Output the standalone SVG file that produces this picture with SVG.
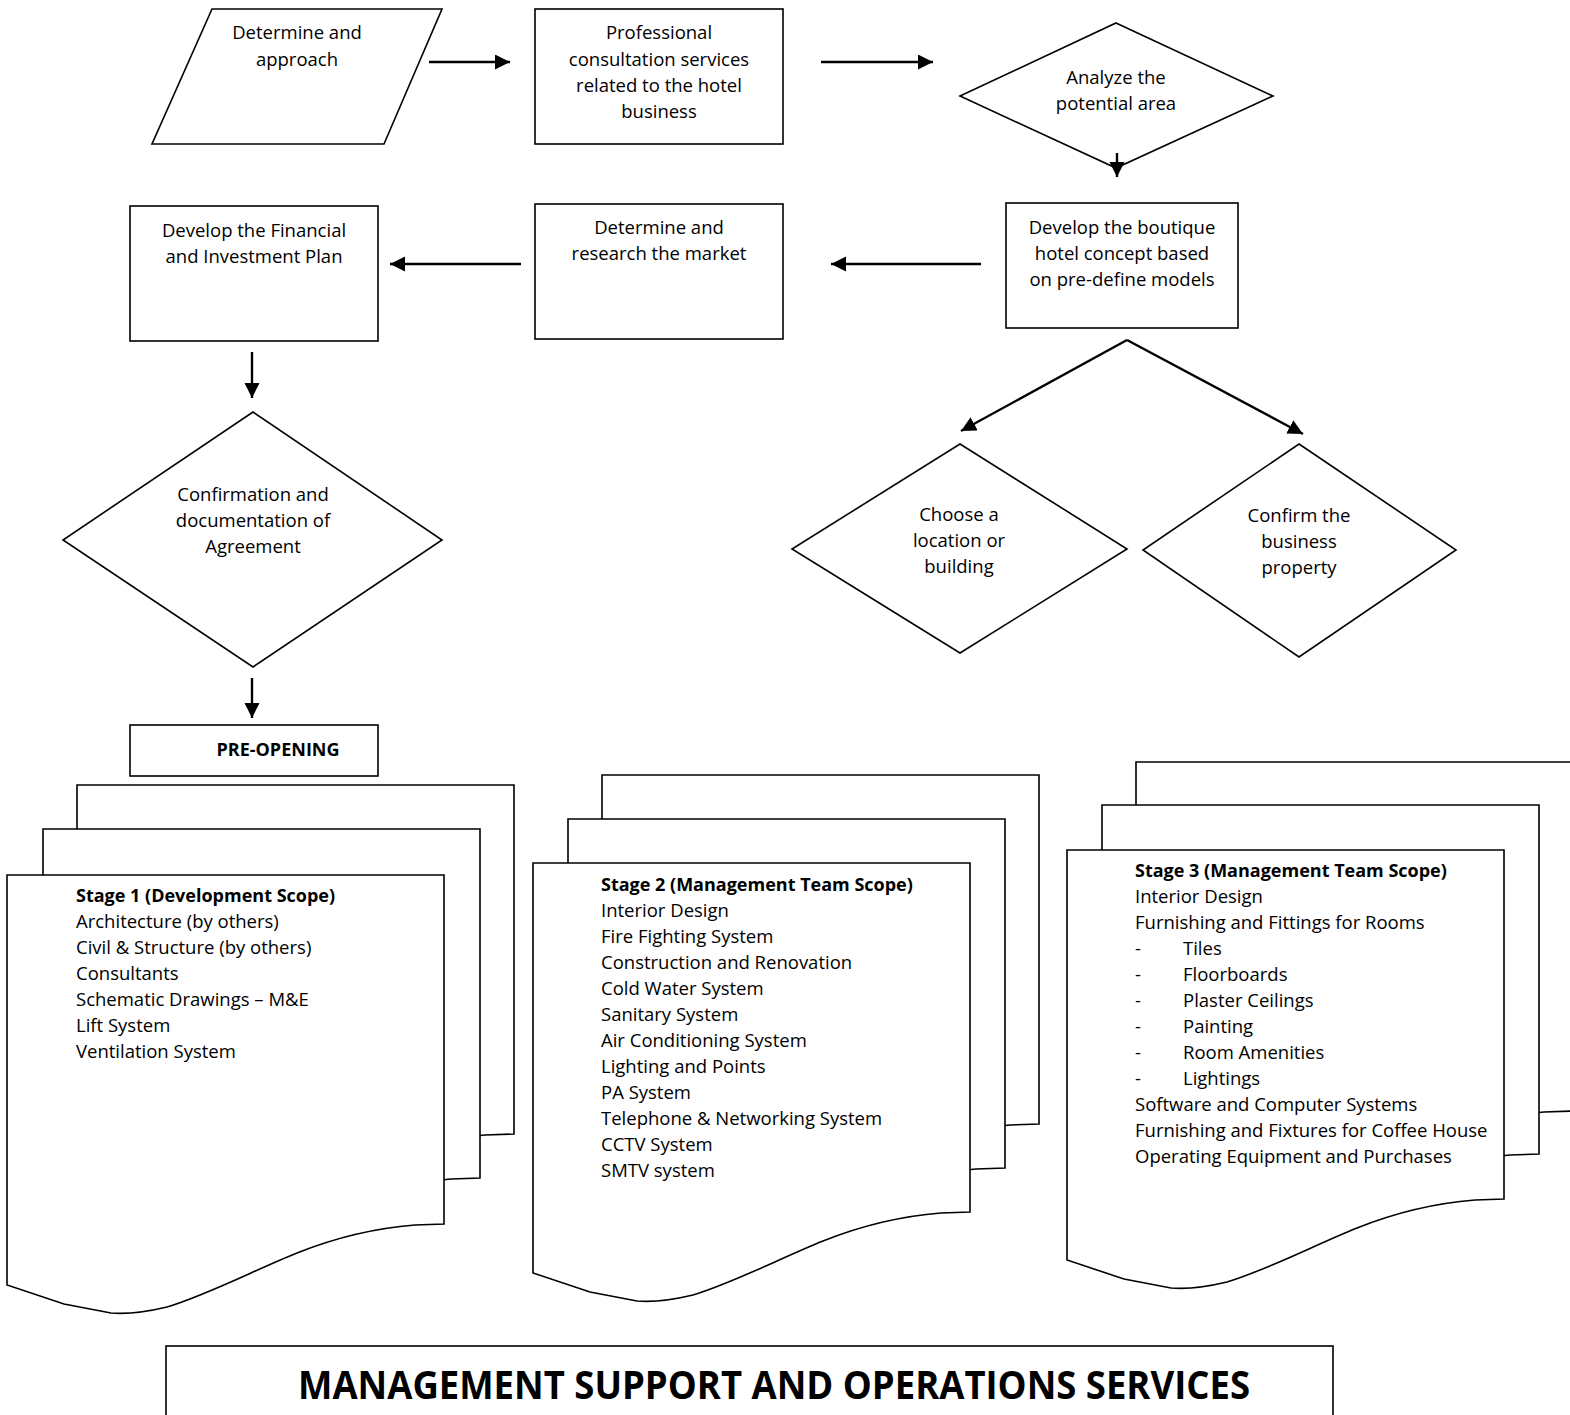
<svg xmlns="http://www.w3.org/2000/svg" xmlns:xlink="http://www.w3.org/1999/xlink" width="1570" height="1415" viewBox="0 0 1570 1415">
<style>
.shape{fill:#fff;stroke:#000;stroke-width:1.6}
.t{font-family:"Open Sans","Noto Sans","Liberation Sans",sans-serif;font-size:18.5px;fill:#000}
.c{text-anchor:middle}
.b{font-weight:bold}
.h{font-size:18px}
.conn{stroke:#000;stroke-width:2.4;fill:none;marker-end:url(#ah)}
</style>
<defs>
<marker id="ah" markerUnits="userSpaceOnUse" markerWidth="16" markerHeight="16" refX="15" refY="7.5" orient="auto">
<path d="M0,0 L15,7.5 L0,15 Z" fill="#000"/>
</marker>
<path id="doc" class="shape" d="M0,0 H437 V349 L408,350 C370,353 330,362 290,378 C250,394 200,420 160,432 C135,438 115,439 104,438 L57,429 L0,410 Z"/>
</defs>
<rect width="1570" height="1415" fill="#fff"/>

<g id="n-approach">
<polygon class="shape" points="212,9 442,9 384,144 152,144"/>
<text class="t c" x="297" y="39">Determine and</text>
<text class="t c" x="297" y="66">approach</text>
</g>
<g id="n-consult">
<rect class="shape" x="535" y="9" width="248" height="135"/>
<text class="t c" x="659" y="39">Professional</text>
<text class="t c" x="659" y="66">consultation services</text>
<text class="t c" x="659" y="92">related to the hotel</text>
<text class="t c" x="659" y="118">business</text>
</g>
<g id="n-analyze">
<polygon class="shape" points="1116,23 1273,96 1116,168 960,96"/>
<text class="t c" x="1116" y="84">Analyze the</text>
<text class="t c" x="1116" y="110">potential area</text>
</g>
<g id="n-boutique">
<rect class="shape" x="1006" y="203" width="232" height="125"/>
<text class="t c" x="1122" y="234">Develop the boutique</text>
<text class="t c" x="1122" y="260">hotel concept based</text>
<text class="t c" x="1122" y="286">on pre-define models</text>
</g>
<g id="n-market">
<rect class="shape" x="535" y="204" width="248" height="135"/>
<text class="t c" x="659" y="234">Determine and</text>
<text class="t c" x="659" y="260">research the market</text>
</g>
<g id="n-financial">
<rect class="shape" x="130" y="206" width="248" height="135"/>
<text class="t c" x="254" y="237">Develop the Financial</text>
<text class="t c" x="254" y="263">and Investment Plan</text>
</g>
<g id="n-agreement">
<polygon class="shape" points="253,412 442,540 253,667 63,540"/>
<text class="t c" x="253" y="501">Confirmation and</text>
<text class="t c" x="253" y="527">documentation of</text>
<text class="t c" x="253" y="553">Agreement</text>
</g>
<g id="n-location">
<polygon class="shape" points="960,444 1127,549 960,653 792,549"/>
<text class="t c" x="959" y="521">Choose a</text>
<text class="t c" x="959" y="547">location or</text>
<text class="t c" x="959" y="573">building</text>
</g>
<g id="n-property">
<polygon class="shape" points="1299,444 1456,550 1299,657 1143,550"/>
<text class="t c" x="1299" y="522">Confirm the</text>
<text class="t c" x="1299" y="548">business</text>
<text class="t c" x="1299" y="574">property</text>
</g>
<g id="n-preopening">
<rect class="shape" x="130" y="725" width="248" height="51"/>
<text class="t c b h" x="278" y="756">PRE-OPENING</text>
</g>

<g id="n-stage1">
<use xlink:href="#doc" transform="translate(77,785)"/>
<use xlink:href="#doc" transform="translate(43,829)"/>
<use xlink:href="#doc" transform="translate(7,875)"/>
<text class="t b h" x="76" y="902">Stage 1 (Development Scope)</text>
<text class="t" x="76" y="928">Architecture (by others)</text>
<text class="t" x="76" y="954">Civil &amp; Structure (by others)</text>
<text class="t" x="76" y="980">Consultants</text>
<text class="t" x="76" y="1006">Schematic Drawings – M&amp;E</text>
<text class="t" x="76" y="1032">Lift System</text>
<text class="t" x="76" y="1058">Ventilation System</text>
</g>
<g id="n-stage2">
<use xlink:href="#doc" transform="translate(602,775)"/>
<use xlink:href="#doc" transform="translate(568,819)"/>
<use xlink:href="#doc" transform="translate(533,863)"/>
<text class="t b h" x="601" y="891">Stage 2 (Management Team Scope)</text>
<text class="t" x="601" y="917">Interior Design</text>
<text class="t" x="601" y="943">Fire Fighting System</text>
<text class="t" x="601" y="969">Construction and Renovation</text>
<text class="t" x="601" y="995">Cold Water System</text>
<text class="t" x="601" y="1021">Sanitary System</text>
<text class="t" x="601" y="1047">Air Conditioning System</text>
<text class="t" x="601" y="1073">Lighting and Points</text>
<text class="t" x="601" y="1099">PA System</text>
<text class="t" x="601" y="1125">Telephone &amp; Networking System</text>
<text class="t" x="601" y="1151">CCTV System</text>
<text class="t" x="601" y="1177">SMTV system</text>
</g>
<g id="n-stage3">
<use xlink:href="#doc" transform="translate(1136,762)"/>
<use xlink:href="#doc" transform="translate(1102,805)"/>
<use xlink:href="#doc" transform="translate(1067,850)"/>
<text class="t b h" x="1135" y="877">Stage 3 (Management Team Scope)</text>
<text class="t" x="1135" y="903">Interior Design</text>
<text class="t" x="1135" y="929">Furnishing and Fittings for Rooms</text>
<text class="t" x="1135" y="955">-</text><text class="t" x="1183" y="955">Tiles</text>
<text class="t" x="1135" y="981">-</text><text class="t" x="1183" y="981">Floorboards</text>
<text class="t" x="1135" y="1007">-</text><text class="t" x="1183" y="1007">Plaster Ceilings</text>
<text class="t" x="1135" y="1033">-</text><text class="t" x="1183" y="1033">Painting</text>
<text class="t" x="1135" y="1059">-</text><text class="t" x="1183" y="1059">Room Amenities</text>
<text class="t" x="1135" y="1085">-</text><text class="t" x="1183" y="1085">Lightings</text>
<text class="t" x="1135" y="1111">Software and Computer Systems</text>
<text class="t" x="1135" y="1137">Furnishing and Fixtures for Coffee House</text>
<text class="t" x="1135" y="1163">Operating Equipment and Purchases</text>
</g>

<g id="n-banner">
<rect class="shape" x="166" y="1346" width="1167" height="80"/>
<text class="t c b" x="774" y="1399" style="font-size:40px" textLength="952" lengthAdjust="spacingAndGlyphs">MANAGEMENT SUPPORT AND OPERATIONS SERVICES</text>
</g>

<g id="connectors">
<path class="conn" d="M429,62 L510,62"/>
<path class="conn" d="M821,62 L933,62"/>
<path class="conn" d="M1117,153 L1117,177"/>
<path class="conn" d="M981,264 L831,264"/>
<path class="conn" d="M521,264 L390,264"/>
<path class="conn" d="M252,352 L252,398"/>
<path class="conn" d="M252,678 L252,718"/>
<path class="conn" d="M1127,340 L961,431"/>
<path class="conn" d="M1127,340 L1303,434"/>
</g>
</svg>
